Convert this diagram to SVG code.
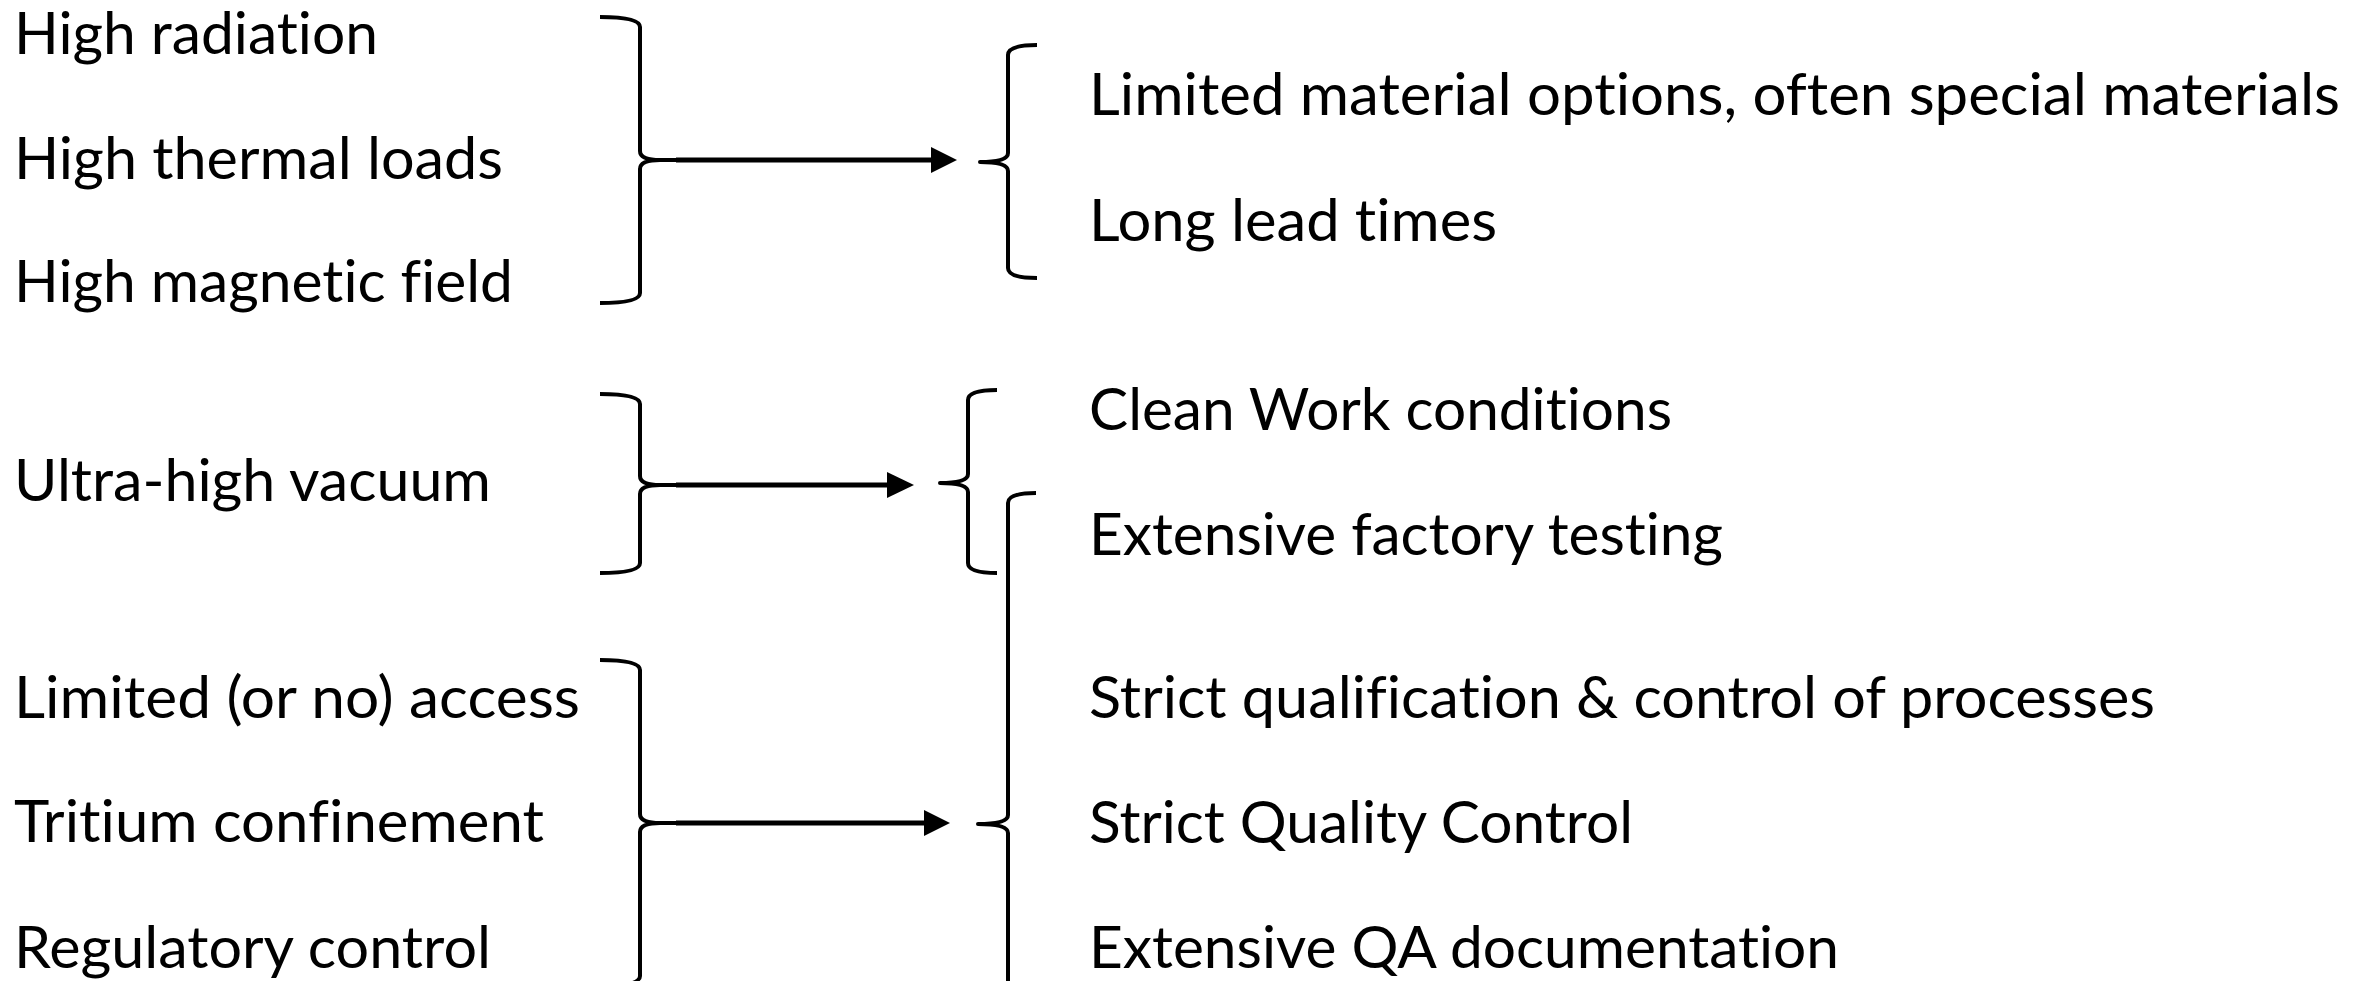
<svg xmlns="http://www.w3.org/2000/svg" width="2369" height="981" viewBox="0 0 2369 981">
<style>
  .t { font-family: Lato, "Liberation Sans", sans-serif; font-size: 58px; fill: #000; font-variant-ligatures: none; font-feature-settings: "liga" 0, "clig" 0; }
  .br { fill: none; stroke: #000; stroke-width: 4; stroke-linejoin: round; stroke-linecap: butt; }
  .ar { fill: none; stroke: #000; stroke-width: 5; }
  .ah { fill: #000; stroke: none; }
</style>
<rect width="2369" height="981" fill="#fff"/>

<g id="node-high-radiation"><text class="t" x="14" y="54" textLength="364" lengthAdjust="spacingAndGlyphs">High radiation</text></g>
<g id="node-high-thermal-loads"><text class="t" x="14" y="179" textLength="489" lengthAdjust="spacingAndGlyphs">High thermal loads</text></g>
<g id="node-high-magnetic-field"><text class="t" x="14" y="302" textLength="499" lengthAdjust="spacingAndGlyphs">High magnetic field</text></g>
<g id="node-ultra-high-vacuum"><text class="t" x="14" y="501" textLength="477" lengthAdjust="spacingAndGlyphs">Ultra-high vacuum</text></g>
<g id="node-limited-access"><text class="t" x="14" y="718" textLength="566" lengthAdjust="spacingAndGlyphs">Limited (or no) access</text></g>
<g id="node-tritium"><text class="t" x="14" y="842" textLength="530" lengthAdjust="spacingAndGlyphs">Tritium confinement</text></g>
<g id="node-regulatory"><text class="t" x="14" y="968" textLength="477" lengthAdjust="spacingAndGlyphs">Regulatory control</text></g>

<g id="node-limited-material"><text class="t" x="1089" y="115" textLength="1251" lengthAdjust="spacingAndGlyphs">Limited material options, often special materials</text></g>
<g id="node-long-lead"><text class="t" x="1089" y="241" textLength="408" lengthAdjust="spacingAndGlyphs">Long lead times</text></g>
<g id="node-clean-work"><text class="t" x="1089" y="430" textLength="583" lengthAdjust="spacingAndGlyphs">Clean Work conditions</text></g>
<g id="node-factory-testing"><text class="t" x="1089" y="555" textLength="634" lengthAdjust="spacingAndGlyphs">Extensive factory testing</text></g>
<g id="node-strict-qualification"><text class="t" x="1089" y="718" textLength="1066" lengthAdjust="spacingAndGlyphs">Strict qualification &amp; control of processes</text></g>
<g id="node-strict-qc"><text class="t" x="1089" y="843" textLength="544" lengthAdjust="spacingAndGlyphs">Strict Quality Control</text></g>
<g id="node-qa-doc"><text class="t" x="1089" y="968" textLength="750" lengthAdjust="spacingAndGlyphs">Extensive QA documentation</text></g>

<g id="connectors">
  <path class="br" d="M600,17 Q640,17 640,27 V151 Q640,160 660,160 H680 M660,160 Q640,160 640,169 V293 Q640,303 600,303"/>
  <path class="br" d="M600,394 Q640,394 640,404 V476 Q640,485 660,485 H680 M660,485 Q640,485 640,494 V563 Q640,573 600,573"/>
  <path class="br" d="M600,660 Q640,660 640,670 V814 Q640,823 660,823 H680 M660,823 Q640,823 640,832 V976 Q640,986 600,986"/>
  <path class="br" d="M1037,45 Q1008,45 1008,55 V153 Q1008,162 980,162 Q1008,162 1008,171 V268 Q1008,278 1037,278"/>
  <path class="br" d="M997,390 Q968,390 968,400 V474 Q968,483 940,483 Q968,483 968,492 V563 Q968,573 997,573"/>
  <path class="br" d="M1036,493 Q1008,493 1008,503 V815 Q1008,824 978,824 Q1008,824 1008,833 V1145 Q1008,1155 1036,1155"/>
  <line class="ar" x1="676" y1="160" x2="934" y2="160"/>
  <polygon class="ah" points="931,147 957,160 931,173"/>
  <line class="ar" x1="676" y1="485" x2="890" y2="485"/>
  <polygon class="ah" points="887,472 914,485 887,498"/>
  <line class="ar" x1="676" y1="823" x2="927" y2="823"/>
  <polygon class="ah" points="924,810 950,823 924,836"/>
</g>
</svg>
